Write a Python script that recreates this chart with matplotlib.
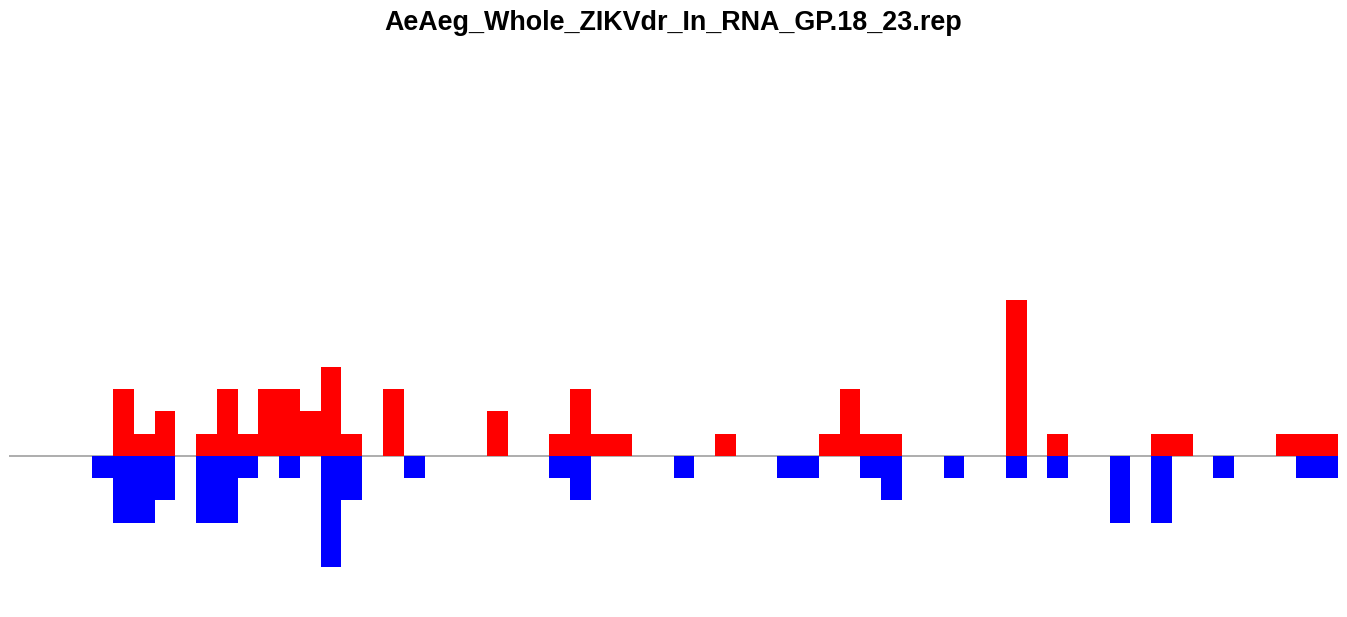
import matplotlib

matplotlib.use("Agg")
import matplotlib.pyplot as plt
import numpy as np

title = "AeAeg_Whole_ZIKVdr_In_RNA_GP.18_23.rep"
n_bins = 64

# (bin index, count)
plus_bins = [5, 6, 7, 9, 10, 11, 12, 13, 14, 15, 16, 18, 23, 26, 27, 28, 29, 34,
             39, 40, 41, 42, 48, 50, 55, 56, 61, 62, 63]
plus_counts = [3, 1, 2, 1, 3, 1, 3, 3, 2, 4, 1, 3, 2, 1, 3, 1, 1, 1,
               1, 3, 1, 1, 7, 1, 1, 1, 1, 1, 1]
minus_bins = [4, 5, 6, 7, 9, 10, 11, 13, 15, 16, 19, 26, 27, 32, 37, 38, 41, 42,
              45, 48, 50, 53, 55, 58, 62, 63]
minus_counts = [1, 3, 3, 2, 3, 3, 1, 1, 5, 2, 1, 1, 2, 1, 1, 1, 1, 2,
                1, 1, 1, 3, 3, 1, 1, 1]


def build_plot():
    fig = plt.figure(figsize=(13.47, 6.17), dpi=100)
    m = max(max(plus_counts), max(minus_counts))
    ax = fig.add_axes([9.3 / 1347, 5.6 / 617, 1328.7 / 1347, 311 / 617])
    ax.axhline(0, color="#a0a0a0", lw=1.2, zorder=1)
    ax.bar(plus_bins, plus_counts, width=1, align="edge", color="#ff0000",
           linewidth=0, zorder=2)
    ax.bar(minus_bins, -np.array(minus_counts), width=1, align="edge",
           color="#0000ff", linewidth=0, zorder=2)
    ax.set_xlim(0, n_bins)
    ax.set_ylim(-m, m)
    ax.axis("off")
    fig.text(0.5, 1 - 23 / 617, title, ha="center", va="center",
             fontsize=19.4, fontweight="bold", family="Liberation Sans")
    return fig


def main() -> None:
    fig = build_plot()
    fig.savefig("out.png", dpi=100)


if __name__ == "__main__":
    main()
